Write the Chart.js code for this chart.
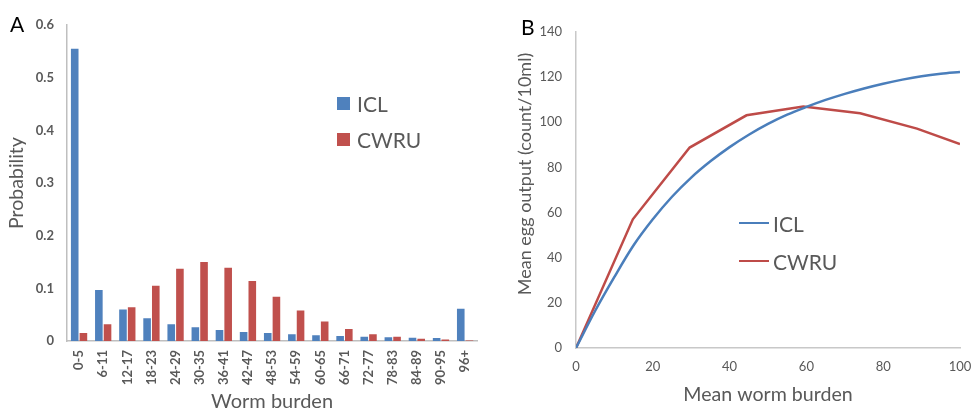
<!DOCTYPE html>
<html>
<head>
<meta charset="utf-8">
<script src="https://cdn.jsdelivr.net/npm/chart.js@4.4.1/dist/chart.umd.min.js"></script>
<style>
  html, body { margin: 0; padding: 0; background: #ffffff; }
  body { width: 971px; height: 414px; position: relative; overflow: hidden; font-family: Lato, "Liberation Sans", sans-serif; }
  .panel { position: absolute; top: 0; }
  .plabel { position: absolute; font-size: 21px; color: #000; line-height: 1; }
  .leg { position: absolute; font-size: 21px; color: #595959; line-height: 1; }
  .leg .row { position: absolute; left: 0; white-space: nowrap; display: flex; align-items: center; }
  .sq { display: inline-block; width: 13px; height: 13px; margin-right: 7px; }
  .ln { display: inline-block; width: 30px; height: 2.5px; margin-right: 4px; }
  .ytitle { position: absolute; white-space: nowrap; color: #595959; line-height: 1; transform-origin: center center; }
</style>
</head>
<body>
<div class="panel" style="left:0;width:490px;height:414px;"><canvas id="chartA" width="490" height="414"></canvas></div>
<div class="panel" style="left:490px;width:481px;height:414px;"><canvas id="chartB" width="481" height="414"></canvas></div>
<div class="plabel" style="left:10px;top:13px;">A</div>
<div class="plabel" style="left:521px;top:16px;">B</div>
<div class="leg" id="legA" style="left:337px;top:0;"></div>
<div class="leg" id="legB" style="left:739px;top:0;"></div>
<div class="ytitle" id="yTitleB" style="font-size:18px;"></div>
<script>
// ---------- Panel A data ----------
const burdenCategories = ['0-5','6-11','12-17','18-23','24-29','30-35','36-41','42-47','48-53','54-59','60-65','66-71','72-77','78-83','84-89','90-95','96+'];
const iclProbability  = [0.555, 0.097, 0.060, 0.043, 0.032, 0.026, 0.021, 0.017, 0.015, 0.013, 0.011, 0.0095, 0.008, 0.007, 0.006, 0.0057, 0.061];
const cwruProbability = [0.015, 0.032, 0.064, 0.105, 0.137, 0.150, 0.139, 0.114, 0.084, 0.058, 0.037, 0.023, 0.013, 0.008, 0.0045, 0.003, 0.001];
const probTicks = [0, 0.1, 0.2, 0.3, 0.4, 0.5, 0.6];

// ---------- Panel B data ----------
const iclWorm = [0, 5, 10, 15, 20, 25, 30, 35, 40, 45, 50, 55, 60, 65, 70, 75, 80, 85, 90, 95, 100];
const iclEgg  = [0, 16.5, 31.5, 45.5, 57, 67, 75.5, 82.7, 89, 94.5, 99.3, 103.4, 106.8, 109.9, 112.6, 115, 117.1, 118.9, 120.4, 121.5, 122.3];
const cwruWorm = [0, 14.8, 29.6, 44.4, 59.2, 74, 88.8, 100];
const cwruEgg  = [0, 57, 88.8, 103.1, 107, 104, 97.2, 90.4];
const wormTicks = [0, 20, 40, 60, 80, 100];
const eggTicks = [0, 20, 40, 60, 80, 100, 120, 140];
const eggAxisTitle = 'Mean egg output (count/10ml)';

const BLUE_BAR = '#4F81BD', RED_BAR = '#C0504D';
const BLUE_LINE = '#4A7EBB', RED_LINE = '#BE4B48';
const FONT = 'Lato, "Liberation Sans", sans-serif';
const GREY = '#595959';

Chart.defaults.font.family = FONT;
Chart.defaults.color = GREY;

// ---------- Chart A ----------
const chartA = new Chart(document.getElementById('chartA'), {
  type: 'bar',
  data: {
    labels: burdenCategories,
    datasets: [
      { label: 'ICL', data: iclProbability, backgroundColor: BLUE_BAR, categoryPercentage: 0.72, barPercentage: 0.875 },
      { label: 'CWRU', data: cwruProbability, backgroundColor: RED_BAR, categoryPercentage: 0.72, barPercentage: 0.875 }
    ]
  },
  options: {
    responsive: false, animation: false, devicePixelRatio: 1,
    layout: { padding: { top: 25, right: 10, left: 0, bottom: 0 } },
    plugins: { legend: { display: false }, tooltip: { enabled: false } },
    scales: {
      x: {
        grid: { display: false, drawTicks: false },
        border: { display: true, color: '#BFBFBF', width: 1.5 },
        ticks: { minRotation: 90, maxRotation: 90, autoSkip: false, padding: 9, color: GREY, font: { size: 13, weight: 'bold' } },
        title: { display: true, text: 'Worm burden', color: GREY, font: { size: 20 }, padding: { top: 0, bottom: 0 } },
        afterFit: s => { s.height = 73; }
      },
      y: {
        min: 0, max: 0.6,
        afterBuildTicks: s => { s.ticks = probTicks.map(v => ({ value: v })); },
        grid: { display: false, drawTicks: false },
        border: { display: true, color: '#BFBFBF', width: 1.5 },
        ticks: { padding: 13, color: GREY, font: { size: 13, weight: 'bold' }, callback: v => String(+v.toFixed(1)) },
        title: { display: true, text: 'Probability', color: GREY, font: { size: 19.5 }, padding: { top: 5, bottom: 0 } },
        afterFit: s => { s.width = 67; }
      }
    }
  }
});

// ---------- Chart B ----------
const toPts = (xs, ys) => xs.map((x, i) => ({ x: x, y: ys[i] }));
const chartB = new Chart(document.getElementById('chartB'), {
  type: 'line',
  data: {
    datasets: [
      { label: 'ICL', data: toPts(iclWorm, iclEgg), borderColor: BLUE_LINE, borderWidth: 2.5, pointRadius: 0, tension: 0.4, cubicInterpolationMode: 'monotone', fill: false },
      { label: 'CWRU', data: toPts(cwruWorm, cwruEgg), borderColor: RED_LINE, borderWidth: 2.5, pointRadius: 0, tension: 0, fill: false }
    ]
  },
  options: {
    responsive: false, animation: false, devicePixelRatio: 1,
    layout: { padding: { top: 32, right: 11, left: 0, bottom: 0 } },
    plugins: { legend: { display: false }, tooltip: { enabled: false } },
    scales: {
      x: {
        type: 'linear', min: 0, max: 100,
        afterBuildTicks: s => { s.ticks = wormTicks.map(v => ({ value: v })); },
        grid: { display: false, drawTicks: false },
        border: { display: true, color: '#C8C8C8', width: 1.5 },
        ticks: { padding: 11, color: GREY, font: { size: 13 } },
        title: { display: true, text: 'Mean worm burden', color: GREY, font: { size: 19.6 }, padding: { top: 0, bottom: 8 } },
        afterFit: s => { s.height = 66; s.paddingLeft = 0; s.paddingRight = 0; }
      },
      y: {
        min: 0, max: 140,
        afterBuildTicks: s => { s.ticks = eggTicks.map(v => ({ value: v })); },
        grid: { display: false, drawTicks: false },
        border: { display: true, color: '#C8C8C8', width: 1.5 },
        ticks: { padding: 14, color: GREY, font: { size: 13 } },
        title: { display: false },
        afterFit: s => { s.width = 86; s.paddingTop = 0; s.paddingBottom = 0; }
      }
    }
  }
});

// ---------- Rotated y-axis title for panel B (real text) ----------
(function () {
  const el = document.getElementById('yTitleB');
  el.textContent = eggAxisTitle;
  const w = el.offsetWidth, h = el.offsetHeight;
  const cx = 524, cy = 174;
  el.style.left = (cx - w / 2) + 'px';
  el.style.top = (cy - h / 2) + 'px';
  el.style.transform = 'rotate(-90deg)';
})();

// ---------- HTML legends built from the datasets ----------
function buildLegend(el, chart, kind, rowsY) {
  chart.data.datasets.forEach((ds, i) => {
    const row = document.createElement('div');
    row.className = 'row';
    row.style.top = (rowsY[i] - 11) + 'px';
    row.style.height = '22px';
    const mark = document.createElement('span');
    mark.className = kind;
    mark.style.background = kind === 'sq' ? ds.backgroundColor : ds.borderColor;
    const txt = document.createElement('span');
    txt.textContent = ds.label;
    row.appendChild(mark); row.appendChild(txt);
    el.appendChild(row);
  });
}
buildLegend(document.getElementById('legA'), chartA, 'sq', [103, 139]);
buildLegend(document.getElementById('legB'), chartB, 'ln', [223, 261]);
</script>
</body>
</html>
